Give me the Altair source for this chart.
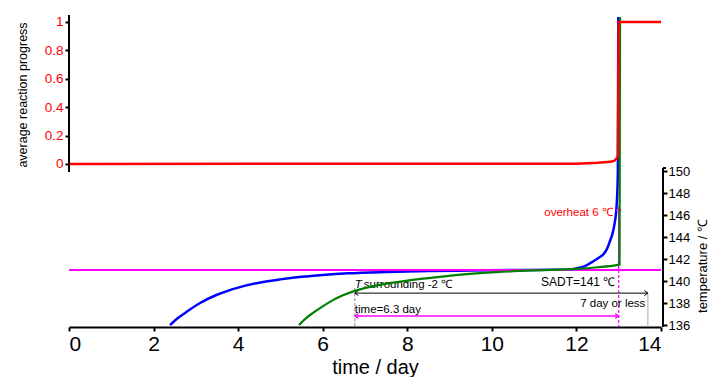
import altair as alt
import pandas as pd

FONT_N = "Liberation Sans Narrow, Arial Narrow, Liberation Sans, Arial"
FONT = "Liberation Sans, Arial"

# ---- data ----
red_t = [0.0, 12.0, 12.5, 12.8, 12.9, 12.98, 13.0, 14.0]
red_p = [0.0, 0.002, 0.008, 0.015, 0.023, 0.05, 1.0, 1.0]

blue_t = [2.39, 2.6, 2.8, 3.1, 3.5, 4.0, 4.5, 5.0, 5.5, 6.0, 6.6, 7.5, 8.5, 9.5,
          10.5, 11.5, 11.9, 12.08, 12.25, 12.4, 12.52, 12.63, 12.72, 12.79, 12.86, 12.91,
          12.94, 12.96, 12.98, 12.99]
blue_T = [136.0, 136.7, 137.25, 138.0, 138.75, 139.4, 139.85, 140.15, 140.38, 140.55, 140.7,
          140.82, 140.9, 140.95, 141.0, 141.02, 141.08, 141.2, 141.45, 141.8, 142.1, 142.4,
          142.9, 143.6, 144.4, 145.4, 146.3, 147.5, 150.0, 164.0]

green_t = [5.44, 5.6, 5.77, 6.0, 6.17, 6.45, 6.76, 7.35, 8.13, 8.93, 10.1, 11.3, 12.0, 12.5,
           12.95, 13.02, 13.03]
green_T = [136.0, 136.6, 137.1, 137.7, 138.1, 138.65, 139.1, 139.65, 140.1, 140.45, 140.8,
           141.0, 141.1, 141.25, 141.45, 141.5, 164.0]

sadt = 141.0
t_start = 6.76
t_end = 13.0
t_limit = 13.69
overheat_top = 146.7
progress_ticks = [0, 0.2, 0.4, 0.6, 0.8, 1]
temp_ticks = [136, 138, 140, 142, 144, 146, 148, 150]
time_ticks = [0, 2, 4, 6, 8, 10, 12, 14]

# ---- scales and axes ----
xs = alt.Scale(domain=[0, 14], nice=False, zero=False)
ps = alt.Scale(domain=[-1.148, 1.049], nice=False, zero=False)
ts = alt.Scale(domain=[135.82, 164.18], nice=False, zero=False)
T_BOT = 135.82

xaxis = alt.Axis(values=time_ticks, title="time / day", grid=False, domainColor="black",
                 domainWidth=2, tickColor="black", tickWidth=2, tickSize=4,
                 labelFont=FONT_N, labelFontSize=21, labelColor="black", labelPadding=2,
                 titleFont=FONT, titleFontSize=20, titleFontWeight="normal", titleColor="black",
                 titlePadding=3, titleX=306)
taxis = alt.Axis(orient="right", values=temp_ticks, title=None, grid=False, domain=False,
                 tickColor="black", tickWidth=2, tickSize=4, offset=2,
                 labelFont=FONT_N, labelFontSize=13, labelColor="black", labelPadding=1)
paxis = alt.Axis(orient="left", values=progress_ticks, format="~g", title=None, grid=False,
                 domain=False, tickColor="black", tickWidth=2, tickSize=4,
                 labelFont=FONT_N, labelFontSize=13.5, labelColor="#FF0000", labelPadding=2)

def X(f="t"):
    return alt.X(f"{f}:Q", scale=xs, axis=xaxis, title="time / day")

def TY(f="T"):
    return alt.Y(f"{f}:Q", scale=ts, axis=taxis, title=None)

def PY(f="P"):
    return alt.Y(f"{f}:Q", scale=ps, axis=paxis, title=None)

one = pd.DataFrame({"a": [0]})

blue = alt.Chart(pd.DataFrame({"t": blue_t, "T": blue_T})).mark_line(
    color="#0000FF", strokeWidth=2.5, interpolate="monotone").encode(x=X(), y=TY())
green = alt.Chart(pd.DataFrame({"t": green_t, "T": green_T})).mark_line(
    color="#008000", strokeWidth=2.2, interpolate="monotone").encode(x=X(), y=TY())

hline = alt.Chart(pd.DataFrame({"t": [0], "t2": [14], "T": [sadt]})).mark_rule(
    color="#FF00FF", strokeWidth=2).encode(x=X(), x2="t2:Q", y=TY())

right_dom = alt.Chart(pd.DataFrame({"T": [150.27], "T2": [T_BOT]})).mark_rule(
    color="black", strokeWidth=2).encode(x=alt.value(594), y=TY(), y2="T2:Q")
right_cap = alt.Chart(pd.DataFrame({"T": [150.27]})).mark_rule(
    color="black", strokeWidth=2).encode(x=alt.value(594), x2=alt.value(597), y=TY())

# vertical guide lines
gray_l = alt.Chart(pd.DataFrame({"t": [t_start], "T": [139.35], "T2": [T_BOT]})).mark_rule(
    color="#888888", strokeWidth=1, strokeDash=[3, 2]).encode(x=X(), y=TY(), y2="T2:Q")
gray_r = alt.Chart(pd.DataFrame({"t": [t_limit], "T": [138.9], "T2": [T_BOT]})).mark_rule(
    color="#AAAAAA", strokeWidth=1).encode(x=X(), y=TY(), y2="T2:Q")
mag_dash = alt.Chart(pd.DataFrame({"t": [t_end], "T": [sadt], "T2": [T_BOT]})).mark_rule(
    color="#FF00FF", strokeWidth=1.2, strokeDash=[3, 2]).encode(x=X(), y=TY(), y2="T2:Q")
mag_up = alt.Chart(pd.DataFrame({"t": [t_end], "T": [sadt], "T2": [overheat_top]})).mark_rule(
    color="#FF00FF", strokeWidth=1.5).encode(x=X(), y=TY(), y2="T2:Q")

# horizontal arrows
black_arr = alt.Chart(pd.DataFrame({"t": [t_start], "t2": [t_limit], "T": [138.9]})).mark_rule(
    color="black", strokeWidth=1).encode(x=X(), x2="t2:Q", y=TY())
mag_arr = alt.Chart(pd.DataFrame({"t": [t_start], "t2": [t_end], "T": [136.82]})).mark_rule(
    color="#FF00FF", strokeWidth=1.5).encode(x=X(), x2="t2:Q", y=TY())

LEFT = "M1,-0.7L0,0L1,0.7"
RIGHT = "M-1,-0.7L0,0L-1,0.7"
UP = "M-0.7,1L0,0L0.7,1"

def head(t, T, shape, color, w=1.2):
    return alt.Chart(pd.DataFrame({"t": [t], "T": [T]})).mark_point(
        shape=shape, filled=False, size=50, color=color, strokeWidth=w, opacity=1).encode(
        x=X(), y=TY())

heads = [
    head(t_start, 138.9, LEFT, "black", 1),
    head(t_limit, 138.9, RIGHT, "black", 1),
    head(t_start, 136.82, LEFT, "#FF00FF"),
    head(t_end, 136.82, RIGHT, "#FF00FF"),
    head(t_end, overheat_top, UP, "#FF00FF"),
]

def label(t, T, text, color="black", align="left", size=12, style="normal", dx=0):
    return alt.Chart(pd.DataFrame({"t": [t], "T": [T]})).mark_text(
        text=text, color=color, align=align, baseline="middle", font=FONT_N, fontSize=size,
        fontStyle=style, dx=dx).encode(x=X(), y=TY())

texts = [
    label(12.86, 146.2, "overheat 6 ℃", color="#FF0000", align="right", size=11.5),
    label(12.92, 139.9, "SADT=141 ℃", align="right", size=12),
    label(t_start, 139.6, "T", style="italic", size=11.5),
    label(t_start, 139.6, "surrounding -2 ℃", size=11.5, dx=9),
    label(13.63, 137.9, "7 day or less", align="right", size=11.5),
    label(t_start, 137.4, "time=6.3 day", size=11.5),
]

right_title = alt.Chart(one).mark_text(
    text="temperature / ℃", angle=270, font=FONT, fontSize=13, color="black",
    align="center", baseline="middle").encode(x=alt.value(634), y=alt.value(251))

temp_group = alt.layer(blue, hline, right_dom, right_cap, gray_l, gray_r, mag_dash, mag_up,
                       black_arr, mag_arr, *heads, *texts, right_title, green)

red = alt.Chart(pd.DataFrame({"t": red_t, "P": red_p})).mark_line(
    color="#FF0000", strokeWidth=2.5).encode(x=X(), y=PY())
left_dom = alt.Chart(pd.DataFrame({"P": [1.049], "P2": [-0.056]})).mark_rule(
    color="black", strokeWidth=2).encode(x=alt.value(0), y=PY(), y2="P2:Q")
left_title = alt.Chart(one).mark_text(
    text="average reaction progress", angle=270, font=FONT, fontSize=12.5, color="black",
    align="center", baseline="middle").encode(x=alt.value(-46), y=alt.value(80))

red_group = alt.layer(red, left_dom, left_title)

chart = alt.layer(temp_group, red_group).resolve_scale(y="independent").properties(
    width=592, height=312,
    autosize=alt.AutoSizeParams(type="none"),
    padding={"left": 61, "top": 7, "right": 59, "bottom": 50},
).configure(background="white").configure_view(stroke=None)

chart.save("out.html", embed_options={"renderer": "svg", "actions": False})
